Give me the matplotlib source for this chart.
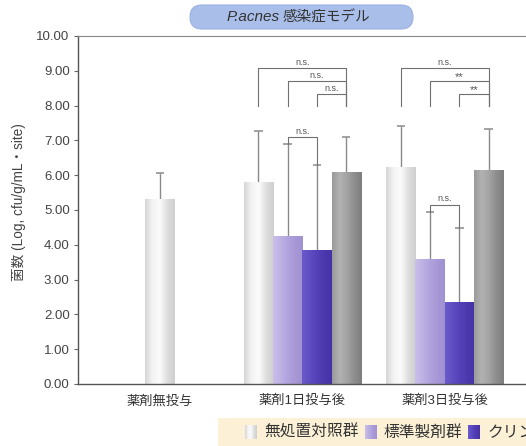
import numpy as np
import matplotlib
matplotlib.use("Agg")
import matplotlib.pyplot as plt
from matplotlib.patches import FancyBboxPatch, Rectangle
from matplotlib.colors import LinearSegmentedColormap
from matplotlib.transforms import IdentityTransform

plt.rcParams['font.family'] = ['Liberation Sans', 'Noto Sans CJK JP']

# ---- data -------------------------------------------------------------
categories = ["薬剤無投与", "薬剤1日投与後", "薬剤3日投与後"]
series_names = ["無処置対照群", "標準製剤群", "クリンダマイシンゲル群", "基剤群"]

control_mean = [5.29, 5.78, 6.22]
control_sd = [0.77, 1.49, 1.20]
standard_mean = [np.nan, 4.23, 3.57]
standard_sd = [np.nan, 2.66, 1.38]
test_mean = [np.nan, 3.83, 2.33]
test_sd = [np.nan, 2.45, 2.14]
base_mean = [np.nan, 6.08, 6.14]
base_sd = [np.nan, 1.02, 1.20]

yticks = [0, 1, 2, 3, 4, 5, 6, 7, 8, 9, 10]

# significance brackets: (group, left series, right series, label)
brackets_top = [
    (1, 0, 3, "n.s."), (1, 1, 3, "n.s."), (1, 2, 3, "n.s."),
    (2, 0, 3, "n.s."), (2, 1, 3, "**"), (2, 2, 3, "**"),
]
brackets_pair = [(1, 1, 2, "n.s."), (2, 1, 2, "n.s.")]

# ---- styling ----------------------------------------------------------
gradients = [
    ["#d6d6d6", "#f4f4f4", "#fbfbfb", "#dedede", "#cfcfcf"],
    ["#c9bfea", "#bdb1e4", "#b1a3dd", "#a898d7", "#a091d2"],
    ["#6b5acb", "#5f4dc2", "#5441b8", "#4c39ae", "#4632a6"],
    ["#9a9a9a", "#b2b2b2", "#a4a4a4", "#8e8e8e", "#7e7e7e"],
]
cmaps = [LinearSegmentedColormap.from_list(f"g{i}", c) for i, c in enumerate(gradients)]

W, H = 526, 446
fig = plt.figure(figsize=(W / 100, H / 100), dpi=100)
ax = fig.add_axes([78 / W, (H - 384) / H, 591 / W, 348 / H])

bar_w = 0.2056
means = [control_mean, standard_mean, test_mean, base_mean]
sds = [control_sd, standard_sd, test_sd, base_sd]
err_color = "#8a8a8a"
cap_half = 0.03


def bar_x(group, s):
    if group == 0:
        return 0.0
    return group + (s - 1.5) * bar_w


grad = np.linspace(0, 1, 64).reshape(1, -1)
tops = {}
for s in range(4):
    for g in range(len(categories)):
        m = means[s][g]
        if np.isnan(m):
            continue
        x = bar_x(g, s)
        ax.bar(x, m, width=bar_w, color="none", zorder=2)
        ax.imshow(grad, extent=[x - bar_w / 2, x + bar_w / 2, 0, m], aspect="auto",
                  cmap=cmaps[s], interpolation="bicubic", zorder=2)
        top = m + sds[s][g]
        ax.vlines(x, m, top, color=err_color, lw=1.0, zorder=1)
        ax.hlines(top, x - cap_half, x + cap_half, color=err_color, lw=1.1, zorder=1)
        tops[(g, s)] = top

br_color = "#707070"
levels = [9.07, 8.70, 8.32]
for i, (g, a, b, lab) in enumerate(brackets_top):
    y = levels[i % 3]
    x1, x2 = bar_x(g, a), bar_x(g, b)
    ax.plot([x1, x1, x2, x2], [8.0, y, y, 8.0], color=br_color, lw=0.8, zorder=3)
    star = lab == "**"
    ax.text((x1 + x2) / 2, y + (-0.02 if star else 0.04), lab, ha="center", va="bottom",
            fontsize=8 if star else 6.5, color="#555555")

for g, a, b, lab in brackets_pair:
    x1, x2 = bar_x(g, a), bar_x(g, b)
    y = max(tops[(g, a)], tops[(g, b)]) + 0.2
    ax.plot([x1, x1, x2, x2], [tops[(g, a)], y, y, tops[(g, b)]],
            color=br_color, lw=0.8, zorder=3)
    ax.text((x1 + x2) / 2, y + 0.04, lab, ha="center", va="bottom",
            fontsize=6.5, color="#555555")

ax.set_xlim(-0.575, 3.575)
ax.set_ylim(0, 10)
ax.set_yticks(yticks)
ax.set_yticklabels([f"{v:.2f}" for v in yticks], fontsize=9.5, color="#444444")
ax.tick_params(axis="y", length=3, width=0.8, color="#666666", pad=3)
ax.set_xticks(range(len(categories)))
ax.set_xticklabels(categories, fontsize=9.5, color="#333333")
ax.tick_params(axis="x", length=0, pad=8)
for side in ["left", "bottom"]:
    ax.spines[side].set_color("#555555")
    ax.spines[side].set_linewidth(1.0)
ax.spines["top"].set_color("#888888")
ax.spines["top"].set_linewidth(0.8)
ax.spines["right"].set_visible(False)

fig.text(19 / W, 1 - 202 / H, "菌数 (Log, cfu/g/mL・site)", rotation=90,
         ha="center", va="center", fontsize=9.8, color="#444444")

# title plate
px = IdentityTransform()
fig.patches.append(FancyBboxPatch((190, H - 29), 223, 24,
                                  boxstyle="round,pad=0,rounding_size=12",
                                  facecolor="#a9bfe9", edgecolor="#9ab1e2", lw=0.8,
                                  transform=px, figure=fig, zorder=-1))
fig.text(280 / W, 1 - 17 / H, "P.acnes", style="italic", ha="right", va="center",
         fontsize=11, color="#333333")
fig.text(283 / W, 1 - 17 / H, "感染症モデル", ha="left", va="center",
         fontsize=10.5, color="#333333")

# legend strip
fig.patches.append(Rectangle((218, 0), 400, 28, facecolor="#fcf1d6",
                             edgecolor="none", transform=px, figure=fig, zorder=-1))
fig.canvas.draw()
renderer = fig.canvas.get_renderer()
x_cur = 245
for s, name in enumerate(series_names):
    cax = fig.add_axes([x_cur / W, 7 / H, 12 / W, 14 / H], zorder=2)
    cax.imshow(grad, aspect="auto", cmap=cmaps[s], interpolation="bicubic")
    cax.set_axis_off()
    t = fig.text((x_cur + 19) / W, 14 / H, name, ha="left", va="center",
                 fontsize=11.3, color="#333333")
    bb = t.get_window_extent(renderer)
    x_cur = bb.x1 + 6

fig.savefig("out.png", dpi=100)
